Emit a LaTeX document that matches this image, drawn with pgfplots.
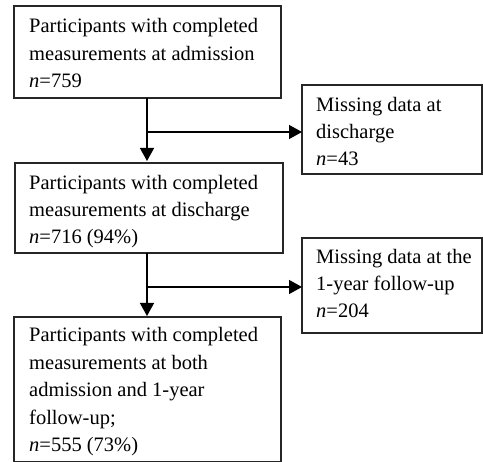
\documentclass[border=0pt]{standalone}
\usepackage{pgfplots}
\pgfplotsset{compat=1.18}
\usetikzlibrary{arrows.meta}
\usepackage{fontspec}
\setmainfont{Liberation Serif}
\begin{document}
\begin{tikzpicture}
\begin{axis}[
  width=483pt, height=462pt, scale only axis,
  xmin=0, xmax=483, ymin=0, ymax=462, y dir=reverse,
  hide axis, clip=false,
]
\path (axis cs:0,0) (axis cs:483,462);
% boxes
\draw[line width=1.2pt, black!85] (axis cs:14,6) rectangle (axis cs:281,98);
\draw[line width=1.2pt, black!85] (axis cs:302,85) rectangle (axis cs:482,174);
\draw[line width=1.2pt, black!85] (axis cs:15,163) rectangle (axis cs:283,253);
\draw[line width=1.2pt, black!85] (axis cs:302,238) rectangle (axis cs:482,333);
\draw[line width=1.2pt, black!85] (axis cs:14,317) rectangle (axis cs:281,461.3);
% arrows
\tikzset{ar/.style={line width=1.3pt, -{Triangle[width=14pt,length=13pt]}}}
\draw[ar] (axis cs:147,98) -- (axis cs:147,161);
\draw[ar] (axis cs:147,132) -- (axis cs:302,132);
\draw[ar] (axis cs:147,253) -- (axis cs:147,316);
\draw[ar] (axis cs:147,287) -- (axis cs:302,287);
% text
\tikzset{t/.style={anchor=base west, inner sep=0pt, font=\fontsize{20.5}{27}\selectfont}}
\node[t] at (axis cs:29,33) {Participants with completed};
\node[t] at (axis cs:29,61) {measurements at admission};
\node[t] at (axis cs:29,88) {\textit{n}=759};
\node[t] at (axis cs:316,112) {Missing data at};
\node[t] at (axis cs:316,139) {discharge};
\node[t] at (axis cs:316,166) {\textit{n}=43};
\node[t] at (axis cs:29,190) {Participants with completed};
\node[t] at (axis cs:29,217) {measurements at discharge};
\node[t] at (axis cs:29,244) {\textit{n}=716 (94\%)};
\node[t] at (axis cs:316,264) {Missing data at the};
\node[t] at (axis cs:316,291) {1-year follow-up};
\node[t] at (axis cs:316,318) {\textit{n}=204};
\node[t] at (axis cs:29,342) {Participants with completed};
\node[t] at (axis cs:29,369.5) {measurements at both};
\node[t] at (axis cs:29,397) {admission and 1-year};
\node[t] at (axis cs:29,424.5) {follow-up;};
\node[t] at (axis cs:29,452) {\textit{n}=555 (73\%)};
\end{axis}
\end{tikzpicture}
\end{document}
